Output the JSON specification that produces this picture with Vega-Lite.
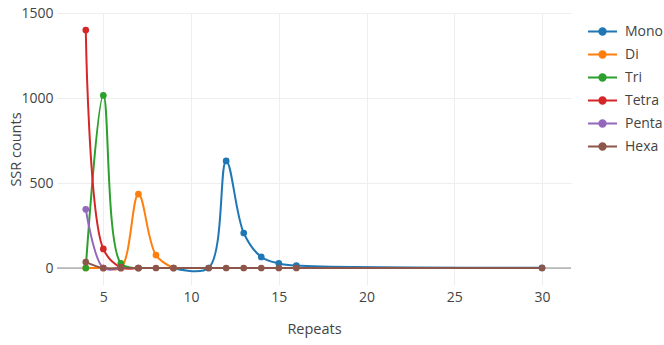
{
  "$schema": "https://vega.github.io/schema/vega-lite/v6.json",
  "autosize": {"type": "none"},
  "width": 514,
  "height": 272,
  "padding": {"left": 57, "top": 13, "right": 93, "bottom": 60},
  "background": "white",
  "config": {
    "font": "Open Sans",
    "view": {"stroke": null},
    "axis": {"labelColor": "#444", "titleColor": "#444", "labelFont": "Open Sans", "titleFont": "Open Sans", "labelFontSize": 14, "titleFontSize": 14.5, "titleFontWeight": "normal", "gridColor": "#eeeeee", "gridWidth": 1, "domain": false, "ticks": false}
  },
  "data": {"values": [
    {"series": "Mono", "repeats": 9, "count": 0},
    {"series": "Mono", "repeats": 11, "count": 0},
    {"series": "Mono", "repeats": 12, "count": 630},
    {"series": "Mono", "repeats": 13, "count": 206},
    {"series": "Mono", "repeats": 14, "count": 65},
    {"series": "Mono", "repeats": 15, "count": 27},
    {"series": "Mono", "repeats": 16, "count": 14},
    {"series": "Mono", "repeats": 30, "count": 1},
    {"series": "Di", "repeats": 4, "count": 0},
    {"series": "Di", "repeats": 5, "count": 0},
    {"series": "Di", "repeats": 6, "count": 0},
    {"series": "Di", "repeats": 7, "count": 435},
    {"series": "Di", "repeats": 8, "count": 76},
    {"series": "Di", "repeats": 9, "count": 0},
    {"series": "Tri", "repeats": 4, "count": 0},
    {"series": "Tri", "repeats": 5, "count": 1015},
    {"series": "Tri", "repeats": 6, "count": 28},
    {"series": "Tri", "repeats": 7, "count": 0},
    {"series": "Tetra", "repeats": 4, "count": 1400},
    {"series": "Tetra", "repeats": 5, "count": 112},
    {"series": "Tetra", "repeats": 6, "count": 4},
    {"series": "Tetra", "repeats": 7, "count": 0},
    {"series": "Penta", "repeats": 4, "count": 345},
    {"series": "Penta", "repeats": 5, "count": 0},
    {"series": "Penta", "repeats": 6, "count": 0},
    {"series": "Hexa", "repeats": 4, "count": 35},
    {"series": "Hexa", "repeats": 5, "count": 0},
    {"series": "Hexa", "repeats": 6, "count": 0},
    {"series": "Hexa", "repeats": 7, "count": 0},
    {"series": "Hexa", "repeats": 8, "count": 0},
    {"series": "Hexa", "repeats": 9, "count": 0},
    {"series": "Hexa", "repeats": 11, "count": 0},
    {"series": "Hexa", "repeats": 12, "count": 0},
    {"series": "Hexa", "repeats": 13, "count": 0},
    {"series": "Hexa", "repeats": 14, "count": 0},
    {"series": "Hexa", "repeats": 15, "count": 0},
    {"series": "Hexa", "repeats": 16, "count": 0},
    {"series": "Hexa", "repeats": 30, "count": 0}
  ]},
  "layer": [
    {
      "data": {"values": [{"zero": 0}]},
      "mark": {"type": "rule", "color": "#444444", "strokeWidth": 1.2, "opacity": 0.6},
      "encoding": {"y": {"field": "zero", "type": "quantitative", "scale": {"domain": [-100, 1500], "nice": false, "zero": false}}}
    },
    {
      "mark": {"type": "line", "interpolate": "catmull-rom", "strokeWidth": 2, "point": {"filled": true, "size": 45, "opacity": 1}},
      "encoding": {
        "x": {"field": "repeats", "type": "quantitative", "title": "Repeats", "scale": {"domain": [2.36, 31.65], "nice": false, "zero": false}, "axis": {"values": [5, 10, 15, 20, 25, 30], "labelPadding": 5, "titlePadding": 18}},
        "y": {"field": "count", "type": "quantitative", "title": "SSR counts", "scale": {"domain": [-100, 1500], "nice": false, "zero": false}, "axis": {"values": [0, 500, 1000, 1500], "format": "d", "labelPadding": 4, "titleX": -37, "titleBaseline": "alphabetic"}},
        "color": {"field": "series", "type": "nominal", "sort": ["Mono", "Di", "Tri", "Tetra", "Penta", "Hexa"],
          "scale": {"domain": ["Mono", "Di", "Tri", "Tetra", "Penta", "Hexa"], "range": ["#1f77b4", "#ff7f0e", "#2ca02c", "#d62728", "#9467bd", "#8c564b"]},
          "legend": {"title": null, "orient": "none", "legendX": 530, "legendY": 3, "symbolType": "M-1,0H1M-0.22,0a0.22,0.22 0 1,0 0.44,0a0.22,0.22 0 1,0 -0.44,0", "symbolSize": 841, "symbolStrokeWidth": 2, "labelFontSize": 14, "labelColor": "#444", "labelFont": "Open Sans", "labelOffset": 7, "rowPadding": -3.3, "padding": 0,
            "encode": {"symbols": {"update": {"fill": {"scale": "color", "field": "value"}, "fillOpacity": {"value": 1}}}}}
        }
      }
    }
  ]
}
